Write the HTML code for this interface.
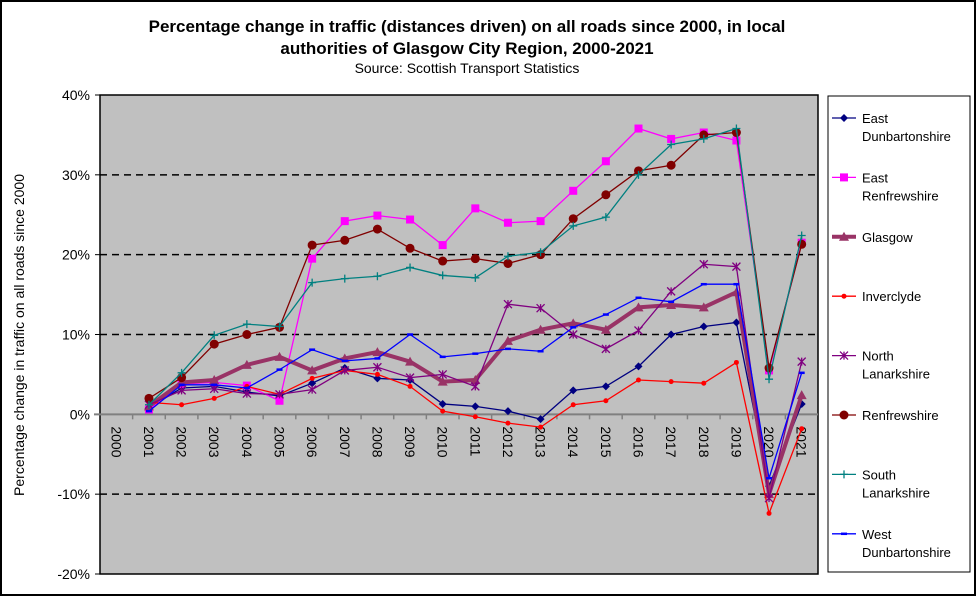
<!DOCTYPE html>
<html><head><meta charset="utf-8"><style>
body{margin:0;background:#fff;}
svg{display:block;font-family:"Liberation Sans",Arial,sans-serif;}
</style></head><body>
<svg id="c" width="976" height="596" xmlns="http://www.w3.org/2000/svg">
<rect x="1" y="1" width="974" height="594" fill="#fff" stroke="#000" stroke-width="2"/>
<text x="467" y="32" text-anchor="middle" font-size="17" font-weight="bold">Percentage change in traffic (distances driven) on all roads since 2000, in local</text>
<text x="467" y="54" text-anchor="middle" font-size="17" font-weight="bold">authorities of Glasgow City Region, 2000-2021</text>
<text x="467" y="73" text-anchor="middle" font-size="14">Source: Scottish Transport Statistics</text>
<text transform="translate(24,335) rotate(-90)" text-anchor="middle" font-size="14">Percentage change in traffic on all roads since 2000</text>
<rect x="100" y="95" width="718" height="479" fill="#c0c0c0" stroke="#000" stroke-width="1.5"/>
<g id="grid"></g><g id="axes"></g><g id="series"></g>
<rect x="828" y="96" width="142" height="476" fill="#fff" stroke="#000" stroke-width="1"/>
<g id="legend"></g>
</svg>
<script>
const years=["2000","2001","2002","2003","2004","2005","2006","2007","2008","2009","2010","2011","2012","2013","2014","2015","2016","2017","2018","2019","2020","2021"];
const yTicks=[-20,-10,0,10,20,30,40];
const eastDunbartonshire=[0.8,3.3,3.5,2.8,2.3,3.9,5.8,4.5,4.3,1.3,1.0,0.4,-0.6,3.0,3.5,6.0,10.0,11.0,11.5,-9.0,1.3];
const eastRenfrewshire=[0.6,3.8,4.0,3.6,1.7,19.5,24.2,24.9,24.4,21.2,25.8,24.0,24.2,28.0,31.7,35.8,34.5,35.3,34.3,5.5,21.5];
const glasgow=[1.0,4.0,4.3,6.2,7.2,5.5,7.0,7.8,6.6,4.1,4.3,9.2,10.6,11.4,10.6,13.4,13.7,13.4,15.3,-10.0,2.4];
const inverclyde=[1.5,1.2,2.0,3.5,2.5,4.5,5.5,5.0,3.5,0.4,-0.3,-1.1,-1.6,1.2,1.7,4.3,4.1,3.9,6.5,-12.4,-1.8];
const northLanarkshire=[1.2,3.0,3.2,2.6,2.5,3.1,5.5,5.9,4.6,5.0,3.5,13.8,13.3,10.0,8.2,10.5,15.4,18.8,18.5,-10.5,6.6];
const renfrewshire=[2.0,4.6,8.8,10.0,10.9,21.2,21.8,23.2,20.8,19.2,19.5,18.9,20.0,24.5,27.5,30.5,31.2,35.0,35.3,5.8,21.3];
const southLanarkshire=[1.2,5.2,9.9,11.3,11.0,16.5,17.0,17.3,18.4,17.4,17.1,19.8,20.3,23.6,24.7,30.0,33.8,34.5,35.8,4.4,22.4];
const westDunbartonshire=[0.4,3.7,3.7,3.3,5.6,8.1,6.7,7.0,10.0,7.2,7.6,8.2,7.9,10.9,12.5,14.6,14.1,16.3,16.3,-8.0,5.2];
const seriesNames=["East Dunbartonshire","East Renfrewshire","Glasgow","Inverclyde","North Lanarkshire","Renfrewshire","South Lanarkshire","West Dunbartonshire"];
const seriesData=[eastDunbartonshire,eastRenfrewshire,glasgow,inverclyde,northLanarkshire,renfrewshire,southLanarkshire,westDunbartonshire];
const styles=[{c:"#000080",w:1.3,m:"diamond",s:4},{c:"#ff00ff",w:1.3,m:"square",s:4},{c:"#993366",w:4,m:"triangle",s:5},{c:"#ff0000",w:1.3,m:"dot",s:2.5},{c:"#800080",w:1.3,m:"star",s:4},{c:"#800000",w:1.3,m:"circle",s:4.5},{c:"#008080",w:1.3,m:"plus",s:4},{c:"#0000ff",w:1.3,m:"dash",s:3}];
const legendLines=[["East","Dunbartonshire"],["East","Renfrewshire"],["Glasgow"],["Inverclyde"],["North","Lanarkshire"],["Renfrewshire"],["South","Lanarkshire"],["West","Dunbartonshire"]];
const NS="http://www.w3.org/2000/svg";
const L=100,R=818,T=95,B=574,yMin=-20,yMax=40;
const bw=(R-L)/years.length;
function xs(i){return L+bw*(i+0.5);}
function ys(v){return B-(v-yMin)/(yMax-yMin)*(B-T);}
function mk(tag,at,p){const e=document.createElementNS(NS,tag);for(const k in at)e.setAttribute(k,at[k]);p.appendChild(e);return e;}
const grid=document.getElementById('grid'),axes=document.getElementById('axes'),ser=document.getElementById('series'),leg=document.getElementById('legend');
yTicks.forEach(v=>{const y=ys(v);
 if(v!==0&&v!==yMin&&v!==yMax){const g=mk('line',{x1:L,x2:R,y1:y,y2:y,stroke:'#000','stroke-width':1.5,'stroke-dasharray':'7,5'},grid);}
 const t=mk('line',{x1:L-5,x2:L,y1:y,y2:y,stroke:'#000'},axes);
 const tx=mk('text',{x:L-10,y:y+5,'text-anchor':'end','font-size':14},axes);tx.textContent=v+'%';});
const zl=mk('line',{x1:L-6,x2:R,y1:ys(0),y2:ys(0),stroke:'#808080','stroke-width':2},axes);
years.forEach((yr,i)=>{const xt=L+bw*(i+1);
 if(i<years.length-1){const t=mk('line',{x1:xt,x2:xt,y1:ys(0),y2:ys(0)+5,stroke:'#808080','stroke-width':1.5},axes);}
 const tx=mk('text',{transform:`translate(${xs(i)-5},${ys(0)+12}) rotate(90)`,'font-size':14},axes);tx.textContent=yr;});
function marker(type,x,y,s,c,p){let e;
 if(type==='diamond')e=mk('polygon',{points:`${x},${y-s} ${x+s},${y} ${x},${y+s} ${x-s},${y}`,fill:c},p);
 else if(type==='square')e=mk('rect',{x:x-s,y:y-s,width:2*s,height:2*s,fill:c},p);
 else if(type==='triangle')e=mk('polygon',{points:`${x},${y-s} ${x+s},${y+s*0.8} ${x-s},${y+s*0.8}`,fill:c},p);
 else if(type==='dot'||type==='circle')e=mk('circle',{cx:x,cy:y,r:s,fill:c},p);
 else if(type==='star')e=mk('path',{d:`M${x-s},${y-s}L${x+s},${y+s}M${x+s},${y-s}L${x-s},${y+s}M${x},${y-s}V${y+s}`,stroke:c,'stroke-width':1.3,fill:'none'},p);
 else if(type==='plus')e=mk('path',{d:`M${x-s},${y}H${x+s}M${x},${y-s}V${y+s}`,stroke:c,'stroke-width':1.3},p);
 else e=mk('path',{d:`M${x-s},${y}H${x+s}`,stroke:c,'stroke-width':2.5},p);
 return e;}
seriesData.forEach((d,k)=>{const st=styles[k];
 const g=mk('g',{},ser);
 const pts=d.map((v,i)=>xs(i+1)+','+ys(v)).join(' ');
 const pl=mk('polyline',{points:pts,fill:'none',stroke:st.c,'stroke-width':st.w},g);
 d.forEach((v,i)=>{const m=marker(st.m,xs(i+1),ys(v),st.s,st.c,g);});
 const ly=118+k*59.4;
 const lg=mk('g',{},leg);
 mk('line',{x1:832,x2:856,y1:ly,y2:ly,stroke:st.c,'stroke-width':st.w},lg);
 marker(st.m,844,ly,st.s,st.c,lg);
 legendLines[k].forEach((t,j)=>{const tx=mk('text',{x:862,y:ly+5+j*18,'font-size':13},lg);tx.textContent=t;});});
</script>
</body></html>
